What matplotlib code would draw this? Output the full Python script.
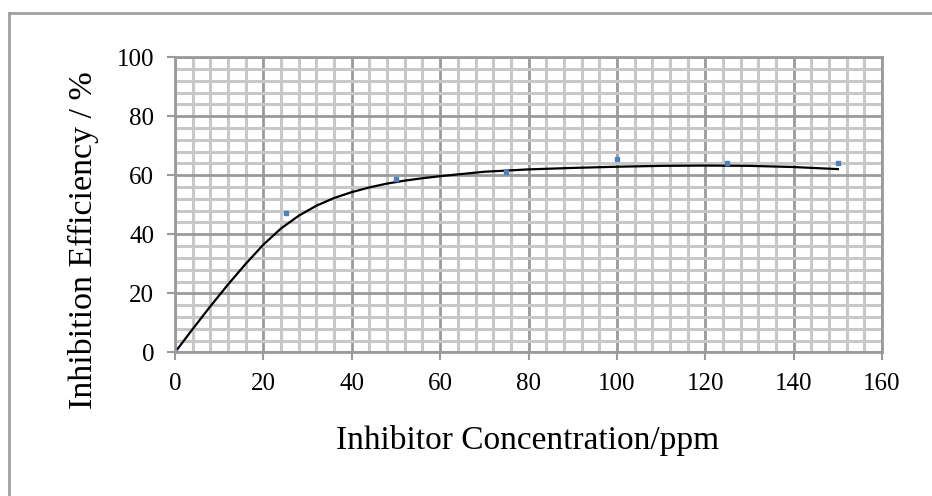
import numpy as np
import matplotlib.pyplot as plt
from matplotlib.lines import Line2D

# measured points (blue markers)
conc = [0, 25, 50, 75, 100, 125, 150]
eff = [0, 47.1, 58.9, 61.1, 65.5, 64.3, 64.3]

# trendline
trend_x = [0, 4, 8, 12, 16, 20, 24, 28, 32, 36, 40, 44, 48, 52, 56, 60,
           70, 80, 90, 100, 110, 120, 130, 140, 150]
trend_y = [0, 7.9, 15.6, 23.0, 30.0, 36.5, 42.0, 46.3, 49.7, 52.3, 54.3, 55.9,
           57.2, 58.2, 59.0, 59.7, 61.2, 62.0, 62.5, 62.9, 63.2, 63.3, 63.2,
           62.8, 62.1]

xticks = [0, 20, 40, 60, 80, 100, 120, 140, 160]
yticks = [0, 20, 40, 60, 80, 100]

plt.rcParams['font.family'] = 'Liberation Serif'

fig = plt.figure(figsize=(9.32, 4.96), dpi=100)
ax = fig.add_axes([0.1878, 0.2897, 0.7586, 0.5948])

ax.set_xlim(0, 160)
ax.set_ylim(0, 100)
ax.set_xticks(xticks)
ax.set_yticks(yticks)
ax.set_xticks(np.arange(0, 161, 4), minor=True)
ax.set_yticks(np.arange(0, 101, 4), minor=True)

ax.grid(which='minor', color='#c8c8c8', linewidth=2.2)
ax.grid(which='major', color='#9a9a9a', linewidth=2.0)
ax.set_axisbelow(True)

ax.tick_params(which='minor', length=0)
ax.tick_params(which='major', length=6, width=1.5, color='#9a9a9a',
               labelsize=18, pad=9)
for s in ax.spines.values():
    s.set_color('#9a9a9a')
    s.set_linewidth(2)

ax.plot(trend_x, trend_y, color='black', linewidth=1.6)
ax.plot(conc, eff, 's', color='#4f81bd', markersize=2.5)

ax.set_xlabel('Inhibitor Concentration/ppm', fontsize=24)
ax.set_ylabel('Inhibition Efficiency / %', fontsize=24.5)
ax.xaxis.set_label_coords(0.498, -0.245)
ax.yaxis.set_label_coords(-0.108, 0.38)

# outer frame (only top and left edges visible)
fig.add_artist(Line2D([9 / 932, 1], [1 - 13 / 496, 1 - 13 / 496],
                      transform=fig.transFigure, color='#a0a0a0', linewidth=2))
fig.add_artist(Line2D([9 / 932, 9 / 932], [0, 1 - 13 / 496],
                      transform=fig.transFigure, color='#a0a0a0', linewidth=2))

fig.savefig('out.png', dpi=100)
